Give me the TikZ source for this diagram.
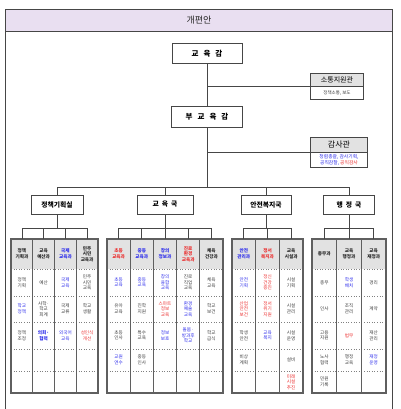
\documentclass[tikz,border=0pt]{standalone}
\usepackage{fontspec}
\setmainfont{Noto Sans CJK KR}
\definecolor{kblue}{RGB}{45,45,235}
\definecolor{kred}{RGB}{235,45,45}
\definecolor{lav}{RGB}{233,223,241}
\definecolor{hgray}{RGB}{226,226,226}
\definecolor{dgray}{RGB}{70,70,70}
\definecolor{tgray}{RGB}{60,60,60}
\definecolor{lgray}{RGB}{95,95,95}
\tikzset{
  box/.style={draw=dgray,line width=1pt,fill=white,inner sep=0pt,font=\bfseries\fontsize{7.5}{9}\selectfont},
  lvl/.style={draw=dgray,line width=1pt,fill=white,inner sep=0pt,minimum height=19pt,font=\bfseries\fontsize{6.8}{8}\selectfont},
  sidehead/.style={fill=hgray,inner sep=0pt,minimum height=12pt},
  sidebody/.style={fill=white,inner sep=0pt,align=center},
  conn/.style={draw=dgray,line width=0.7pt},
  cell/.style={inner sep=0pt,align=center,text=tgray,font=\fontsize{4.6}{5.6}\selectfont},
  hdr/.style={cell,text=black!85,font=\bfseries\fontsize{4.6}{5.6}\selectfont},
  cb/.style={text=kblue},
  cr/.style={text=kred},
}
\newcommand\kc[5][]{\node[cell,#1] (#2) at (#3,#4) {#5};}
\newcommand\kh[5][]{\node[hdr,#1] (#2) at (#3,#4) {#5};}
% table frame: x0, x1, number of columns
\newcommand\kdtable[3]{%
  \fill[hgray] (#1,239) rectangle (#2,269);
  \foreach \yy in {269,296,322,349,371}{\draw[gray,line width=0.6pt,dotted] (#1,\yy) -- (#2,\yy);}
  \pgfmathtruncatemacro\kn{#3-1}
  \foreach \ii in {1,...,\kn}{\draw[lgray,line width=1.1pt] ({#1+\ii*(#2-#1)/#3},239) -- ({#1+\ii*(#2-#1)/#3},393);}
  \draw[lgray,line width=1.2pt] (#1,239) rectangle (#2,393);
}
\begin{document}
\begin{tikzpicture}[x=1pt,y=-1pt]
\useasboundingbox (0,0) rectangle (400,409);
% frame and title
\fill[lav] (5,9) rectangle (392,31);
\draw[dgray,line width=0.8pt] (5,409) -- (5,9) -- (392,9) -- (392,409);
\draw[dgray,line width=0.8pt] (5,31) -- (392,31);
\node[font=\fontsize{9}{10}\selectfont,text=black!85] (title) at (199,20) {개편안};

% top
\node[box,minimum width=70pt,minimum height=20pt] (sup) at (207,54) {교\hspace{5pt}육\hspace{5pt}감};
\node[box,minimum width=71pt,minimum height=20pt] (vice) at (207,117) {부\hspace{5pt}교\hspace{5pt}육\hspace{5pt}감};

% 소통지원관
\node[sidehead,minimum width=52pt,font=\fontsize{7}{8}\selectfont] (comm) at (337,80) {소통지원관};
\node[sidebody,minimum width=52pt,minimum height=13pt,anchor=north,font=\fontsize{4.5}{5.5}\selectfont,text=tgray] (commb) at (comm.south) {정책소통, 보도};
\draw[dgray,line width=1pt] (comm.north west) rectangle (commb.south east);
\draw[dgray,line width=0.5pt] (comm.south west) -- (comm.south east);

% 감사관
\node[sidehead,minimum width=56pt,minimum height=14pt,font=\fontsize{8}{9}\selectfont] (audit) at (339,145) {감사관};
\node[sidebody,minimum width=56pt,minimum height=15pt,anchor=north,font=\fontsize{4.8}{6.2}\selectfont] (auditb) at (audit.south) {\textcolor{kblue}{청렴총괄, 감사기획,}\\\textcolor{kblue}{공직감찰,} \textcolor{kred}{공익감사}};
\draw[dgray,line width=1pt] (audit.north west) rectangle (auditb.south east);
\draw[dgray,line width=0.5pt] (audit.south west) -- (audit.south east);

\draw[conn] (sup.south) -- (vice.north);
\draw[conn] (sup.south |- comm.south west) -- (comm.south west);
\draw[conn] (vice.south |- audit.south west) -- (audit.south west);

% level 2
\node[lvl,minimum width=52pt] (plan) at (57,204.5) {정책기획실};
\node[lvl,minimum width=56pt] (edu) at (165,204.5) {교\hspace{3pt}육\hspace{3pt}국};
\node[lvl,minimum width=50pt] (safe) at (266,204.5) {안전복지국};
\node[lvl,minimum width=51pt] (adm) at (349,204.5) {행\hspace{3pt}정\hspace{3pt}국};

\coordinate (bus) at (207,187);
\draw[conn] (vice.south) -- (bus);
\draw[conn] (plan.north |- bus) -- (adm.north |- bus);
\foreach \n in {plan,edu,safe,adm}{\draw[conn] (\n.north |- bus) -- (\n.north);}

% tables
\kdtable{11}{98}{4}
\kdtable{107}{223}{5}
\kdtable{232}{303}{3}
\kdtable{312}{386}{3}

% column tops
\foreach \nm/\xx in {a1/21.9,a2/43.6,a3/65.4,a4/87.1,b1/118.6,b2/141.8,b3/165,b4/188.2,b5/211.4,c1/243.8,c2/267.5,c3/291.2,d1/324.3,d2/349,d3/373.7}{\coordinate (\nm) at (\xx,239);}
\coordinate (sb) at (0,228);
\draw[conn] (plan.south) -- (plan.south |- sb);
\draw[conn] (a1 |- sb) -- (a4 |- sb);
\foreach \c in {a1,a2,a3,a4}{\draw[conn] (\c |- sb) -- (\c);}
\draw[conn] (edu.south) -- (edu.south |- sb);
\draw[conn] (b1 |- sb) -- (b5 |- sb);
\foreach \c in {b1,b2,b3,b4,b5}{\draw[conn] (\c |- sb) -- (\c);}
\draw[conn] (safe.south) -- (safe.south |- sb);
\draw[conn] (c1 |- sb) -- (c3 |- sb);
\foreach \c in {c1,c2,c3}{\draw[conn] (\c |- sb) -- (\c);}
\draw[conn] (adm.south) -- (adm.south |- sb);
\draw[conn] (d1 |- sb) -- (d3 |- sb);
\foreach \c in {d1,d2,d3}{\draw[conn] (\c |- sb) -- (\c);}

% ---- 정책기획실
\kh{ah1}{21.9}{254}{정책\\기획과}
\kh{ah2}{43.6}{254}{교육\\예산과}
\kh[cb]{ah3}{65.4}{254}{국제\\교육과}
\kh{ah4}{87.1}{254}{민주\\시민\\교육과}
\kc{a11}{21.9}{282.5}{정책\\기획}
\kc[cb]{a12}{21.9}{309}{학교\\정책}
\kc{a13}{21.9}{335.5}{정책\\조정}
\kc{a21}{43.6}{282.5}{예산}
\kc{a22}{43.6}{309}{사학·\\학교\\회계}
\kc[cb,font=\bfseries\fontsize{4.6}{5.6}\selectfont]{a23}{43.6}{335.5}{의회·\\협력}
\kc[cb]{a31}{65.4}{282.5}{국제\\교육}
\kc{a32}{65.4}{309}{국제\\교류}
\kc[cb]{a33}{65.4}{335.5}{외국어\\교육}
\kc{a41}{87.1}{282.5}{민주\\시민\\교육}
\kc{a42}{87.1}{309}{학교\\생활}
\kc[cr]{a43}{87.1}{335.5}{성인식\\개선}

% ---- 교육국
\kh[cr]{bh1}{118.6}{254}{초등\\교육과}
\kh[cb]{bh2}{141.8}{254}{중등\\교육과}
\kh[cb]{bh3}{165}{254}{창의\\정보과}
\kh[cr]{bh4}{188.2}{254}{진로\\환경\\교육과}
\kh{bh5}{211.4}{254}{체육\\건강과}
\kc[cb]{b11}{118.6}{282.5}{초등\\교육}
\kc{b12}{118.6}{309}{유아\\교육}
\kc{b13}{118.6}{335.5}{초등\\인사}
\kc[cb]{b14}{118.6}{360}{교원\\연수}
\kc[cb]{b21}{141.8}{282.5}{중등\\교육}
\kc{b22}{141.8}{309}{진학\\지원}
\kc{b23}{141.8}{335.5}{특수\\교육}
\kc{b24}{141.8}{360}{중등\\인사}
\kc[cb]{b31}{165}{282.5}{창의\\융합\\교육}
\kc[cr]{b32}{165}{309}{스마트\\정보\\교육}
\kc[cb]{b33}{165}{335.5}{정보\\보호}
\kc{b41}{188.2}{282.5}{진로\\직업\\교육}
\kc[cb]{b42}{188.2}{309}{환경\\예술\\교육}
\kc[cb]{b43}{188.2}{335.5}{돌봄·\\방과후\\학교}
\kc{b51}{211.4}{282.5}{체육\\교육}
\kc{b52}{211.4}{309}{학교\\보건}
\kc{b53}{211.4}{335.5}{학교\\급식}

% ---- 안전복지국
\kh[cb]{ch1}{243.8}{254}{안전\\관리과}
\kh[cr]{ch2}{267.5}{254}{정서\\복지과}
\kh{ch3}{291.2}{254}{교육\\시설과}
\kc[cb]{c11}{243.8}{282.5}{안전\\기획}
\kc[cr]{c12}{243.8}{309}{산업\\안전\\보건}
\kc{c13}{243.8}{335.5}{학생\\안전}
\kc{c14}{243.8}{360}{비상\\계획}
\kc[cr]{c21}{267.5}{282.5}{정신\\건강\\증진}
\kc[cr]{c22}{267.5}{309}{정서\\위기\\지원}
\kc[cb]{c23}{267.5}{335.5}{교육\\복지}
\kc{c31}{291.2}{282.5}{시설\\기획}
\kc{c32}{291.2}{309}{시설\\관리}
\kc{c33}{291.2}{335.5}{시설\\운영}
\kc{c34}{291.2}{360}{설비}
\kc[cr]{c35}{291.2}{382}{미래\\시설\\추진}

% ---- 행정국
\kh{dh1}{324.3}{254}{총무과}
\kh{dh2}{349}{254}{교육\\행정과}
\kh{dh3}{373.7}{254}{교육\\재정과}
\kc{d11}{324.3}{282.5}{총무}
\kc{d12}{324.3}{309}{인사}
\kc{d13}{324.3}{335.5}{고용\\지원}
\kc{d14}{324.3}{360}{노사\\협력}
\kc{d15}{324.3}{382}{민원\\기록}
\kc[cb]{d21}{349}{282.5}{학생\\배치}
\kc{d22}{349}{309}{조직\\관리}
\kc[cr]{d23}{349}{335.5}{법무}
\kc{d24}{349}{360}{행정\\교육}
\kc{d31}{373.7}{282.5}{경리}
\kc{d32}{373.7}{309}{계약}
\kc{d33}{373.7}{335.5}{재산\\관리}
\kc[cb]{d34}{373.7}{360}{재정\\운영}
\end{tikzpicture}
\end{document}
